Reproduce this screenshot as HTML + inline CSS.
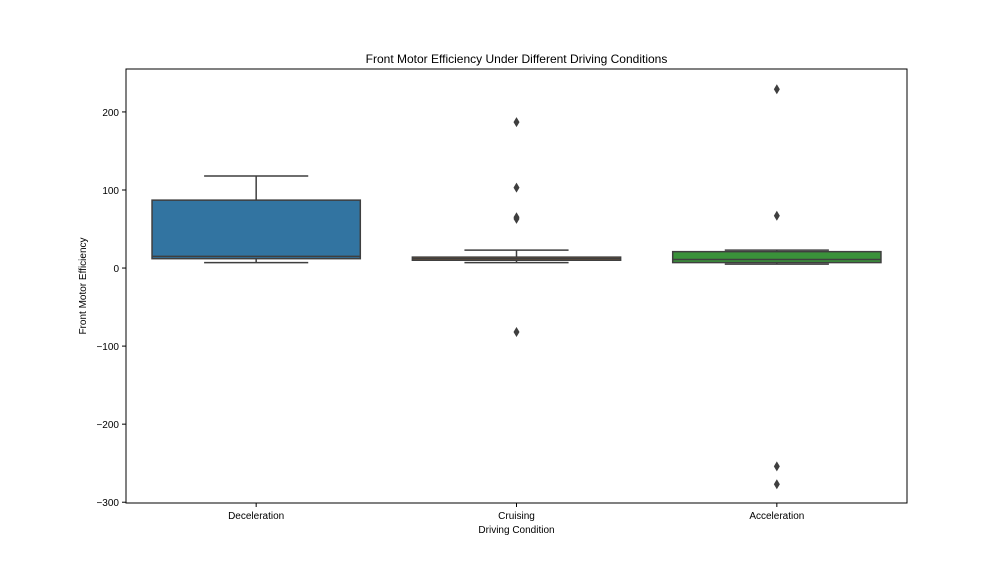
<!DOCTYPE html>
<html><head><meta charset="utf-8"><style>
body{margin:0;background:#fff}
svg{display:block;font-family:"Liberation Sans",sans-serif}
</style></head><body>
<svg id="c" width="1008" height="576"></svg>
<script>
const categories=["Deceleration","Cruising","Acceleration"];
const q1s=[12,10,7];
const medians=[15,12,11];
const q3s=[87,14,21];
const whiskLo=[7,7,5];
const whiskHi=[118,23,23];
const outliers=[[],[187,103,65,63,-82],[229,67,-254,-277]];
const colors=["#3274a1","#e1812c","#3a923a"];
const yTicks=[-300,-200,-100,0,100,200];
const L=126,R=907,T=69,B=503,yMin=-301,yMax=255;
const NS="http://www.w3.org/2000/svg";
const svg=document.getElementById('c');
const y=v=>B-(v-yMin)/(yMax-yMin)*(B-T);
const bw=(R-L)/categories.length;
const xc=i=>L+bw*(i+0.5);
function el(t,a,txt){const e=document.createElementNS(NS,t);for(const k in a)e.setAttribute(k,a[k]);if(txt!==undefined)e.textContent=txt;svg.appendChild(e);return e;}
const ln="#3f3f3f";
yTicks.forEach(v=>{
 const t=el('line',{x1:L-4,x2:L,y1:y(v),y2:y(v),stroke:'#000','stroke-width':1});
 
 
 const l=el('text',{x:L-7,y:y(v)+4,'font-size':10,'text-anchor':'end'},String(v).replace('-','\u2212'));
 
 
});
categories.forEach((c,i)=>{
 const cx=xc(i),w=bw*0.8,cw=w/2;
 const g=el('g',{});
 
 
 const add=(t,a)=>{const e=el(t,a);g.appendChild(e);return e;};
 add('line',{x1:cx,x2:cx,y1:y(q3s[i]),y2:y(whiskHi[i]),stroke:ln,'stroke-width':1.5});
 add('line',{x1:cx,x2:cx,y1:y(q1s[i]),y2:y(whiskLo[i]),stroke:ln,'stroke-width':1.5});
 add('line',{x1:cx-cw/2,x2:cx+cw/2,y1:y(whiskHi[i]),y2:y(whiskHi[i]),stroke:ln,'stroke-width':1.5});
 add('line',{x1:cx-cw/2,x2:cx+cw/2,y1:y(whiskLo[i]),y2:y(whiskLo[i]),stroke:ln,'stroke-width':1.5});
 add('rect',{x:cx-w/2,y:y(q3s[i]),width:w,height:Math.max(1,y(q1s[i])-y(q3s[i])),fill:colors[i],stroke:ln,'stroke-width':1.5});
 add('line',{x1:cx-w/2,x2:cx+w/2,y1:y(medians[i]),y2:y(medians[i]),stroke:ln,'stroke-width':1.5});
 outliers[i].forEach(v=>{
  const p=add('path',{d:`M${cx} ${y(v)-5}L${cx+3} ${y(v)}L${cx} ${y(v)+5}L${cx-3} ${y(v)}Z`,fill:'#3f3f3f'});
  
  
 });
 const t=el('line',{x1:cx,x2:cx,y1:B,y2:B+4,stroke:'#000'});
 
 
 const l=el('text',{x:cx,y:B+16,'font-size':10,'text-anchor':'middle'},c);
 
 
});
const fr=el('rect',{x:L,y:T,width:R-L,height:B-T,fill:'none',stroke:'#000','stroke-width':1});


const tt=el('text',{x:(L+R)/2,y:63,'font-size':12,'text-anchor':'middle'},'Front Motor Efficiency Under Different Driving Conditions');


const xt=el('text',{x:(L+R)/2,y:533,'font-size':10,'text-anchor':'middle'},'Driving Condition');


const yt=el('text',{x:86,y:(T+B)/2,'font-size':10,'text-anchor':'middle',transform:`rotate(-90 86 ${(T+B)/2})`},'Front Motor Efficiency');


</script>
</body></html>
